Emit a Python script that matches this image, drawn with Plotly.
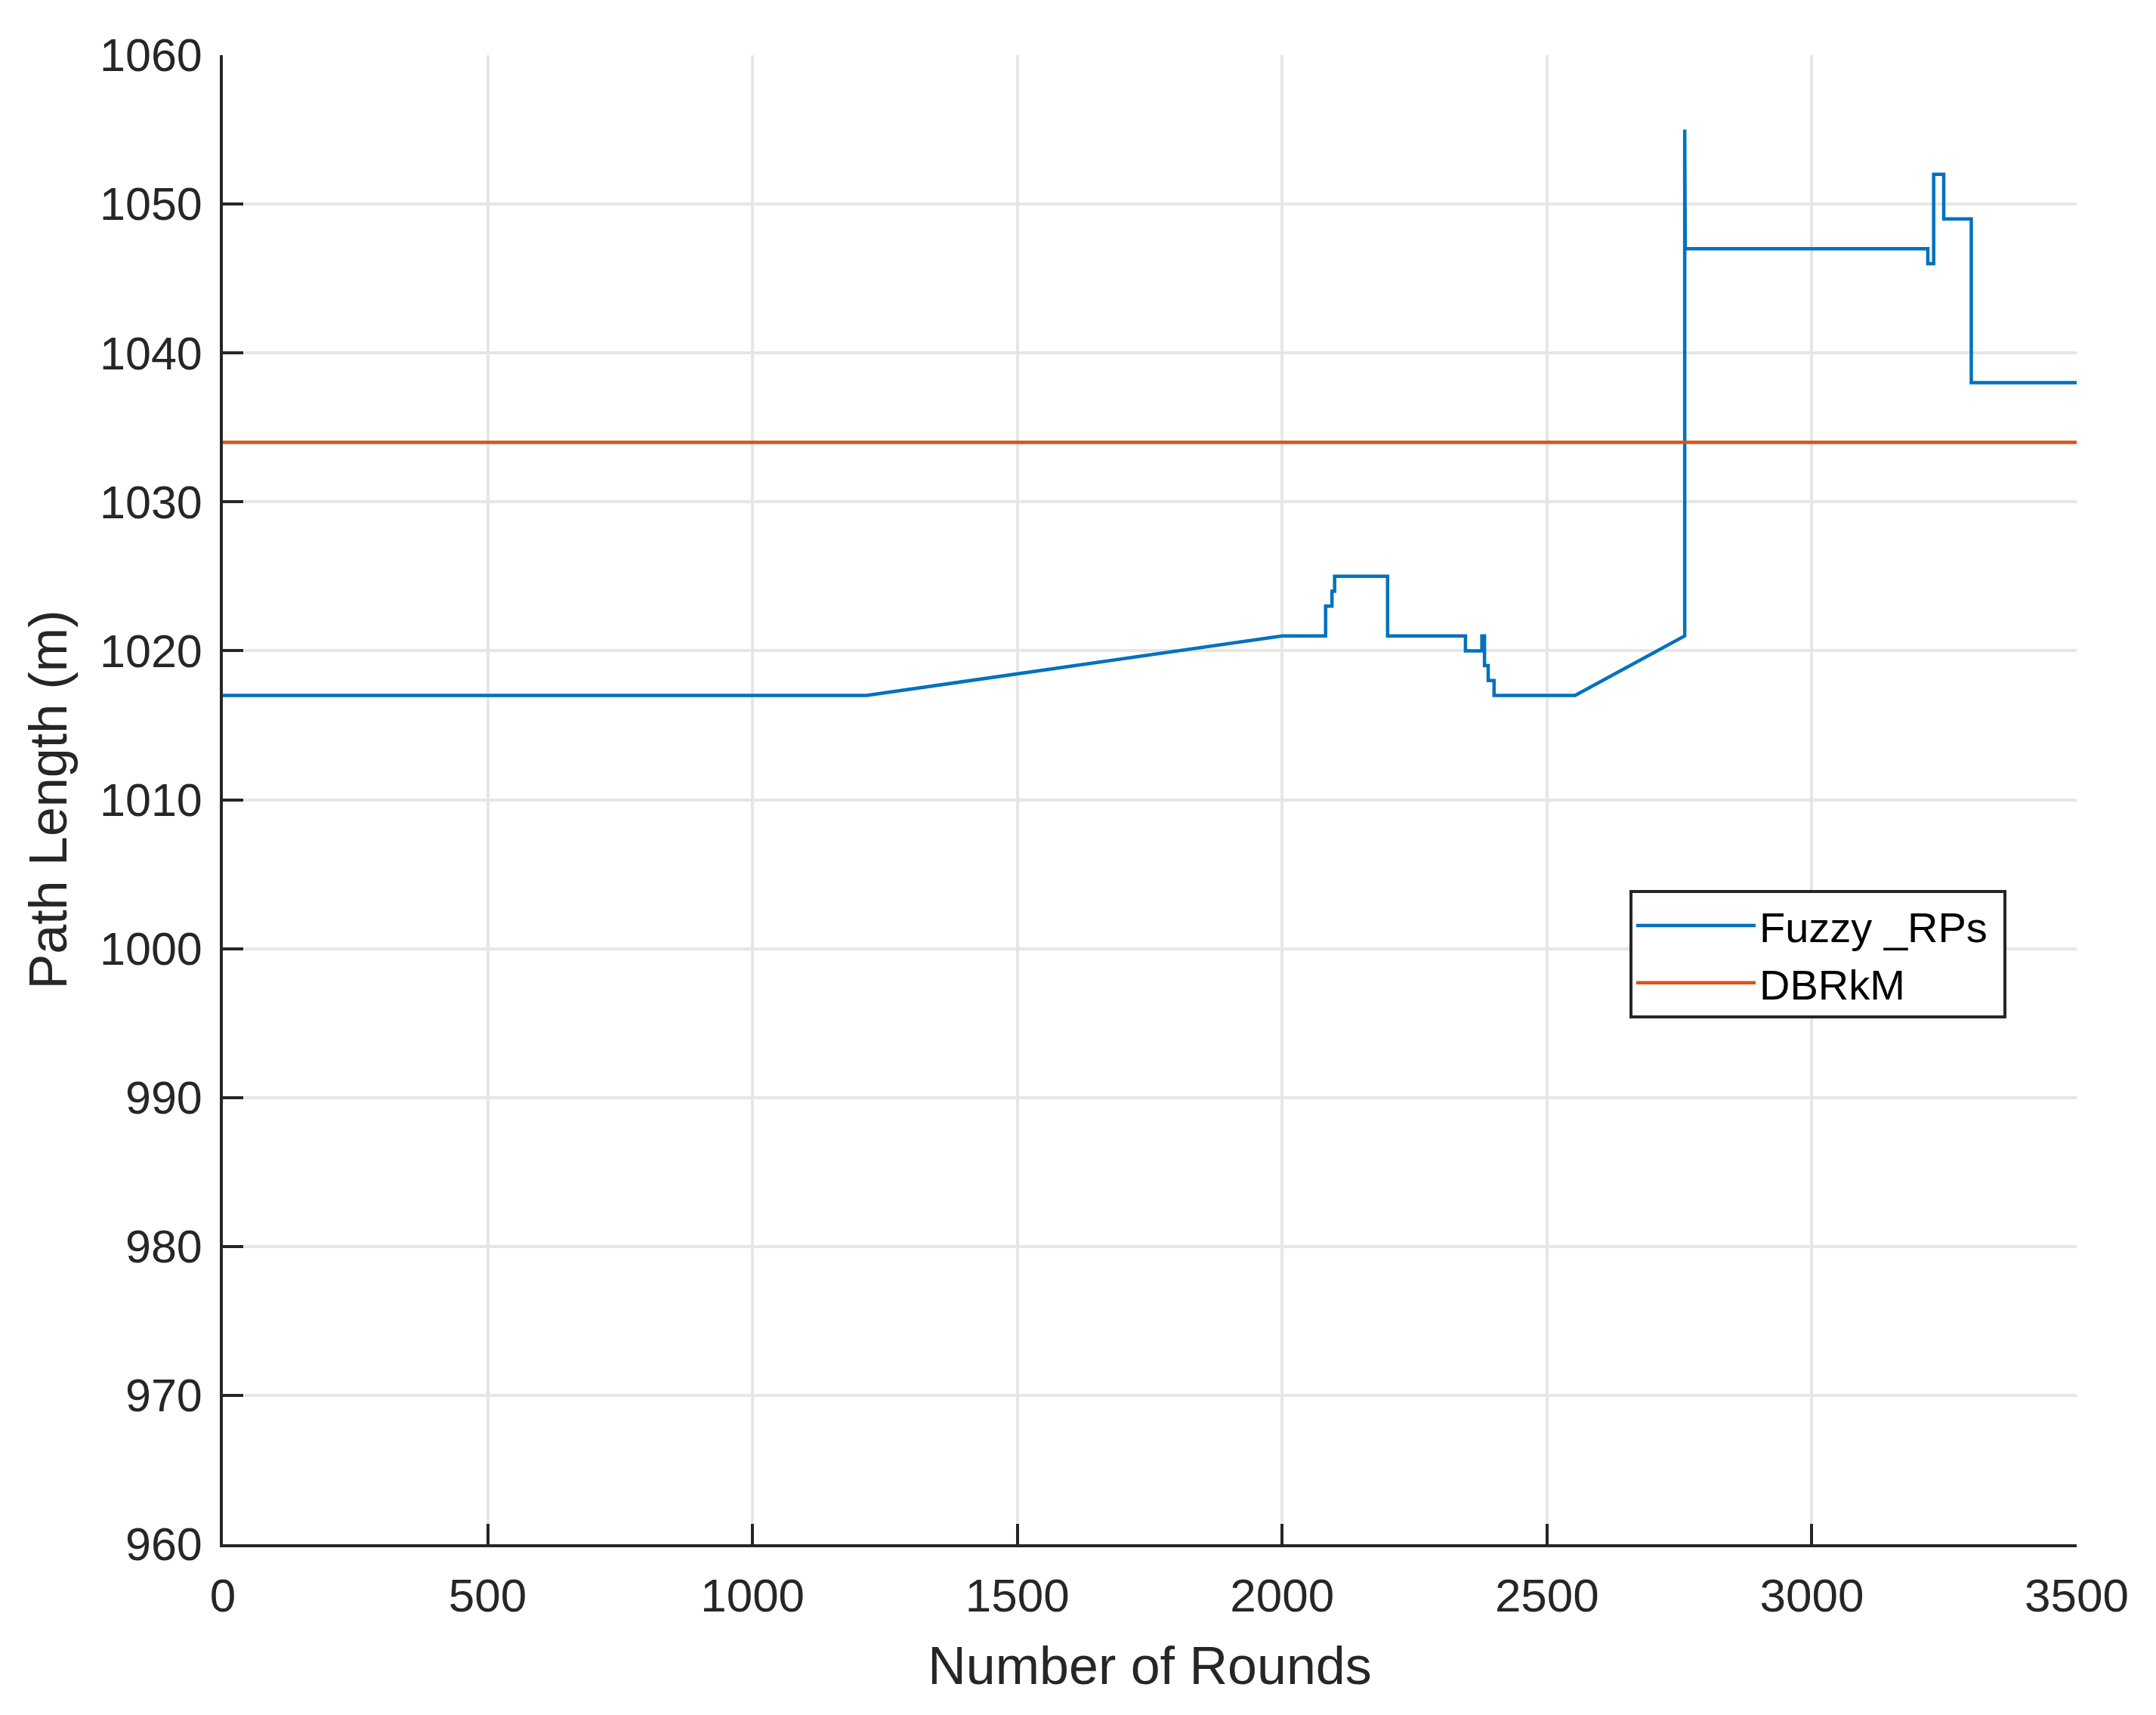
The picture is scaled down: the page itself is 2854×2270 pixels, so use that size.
import plotly.graph_objects as go

# Data
fuzzy_rounds = [0, 1215, 2000, 2082, 2082, 2094, 2094, 2099, 2099, 2199, 2199,
                2346, 2346, 2377, 2377, 2382, 2382, 2389, 2389, 2400, 2400,
                2553, 2760, 2760, 2761, 3219, 3219, 3230, 3230, 3249, 3249,
                3301, 3301, 3500]
fuzzy_length = [1017, 1017, 1021, 1021, 1023, 1023, 1024, 1024, 1025, 1025, 1021,
                1021, 1020, 1020, 1021, 1021, 1019, 1019, 1018, 1018, 1017,
                1017, 1021, 1055, 1047, 1047, 1046, 1046, 1052, 1052, 1049,
                1049, 1038, 1038]

dbrkm_rounds = [0, 3500]
dbrkm_length = [1034, 1034]

x_ticks = [0, 500, 1000, 1500, 2000, 2500, 3000, 3500]
y_ticks = [960, 970, 980, 990, 1000, 1010, 1020, 1030, 1040, 1050, 1060]

FONT = "Liberation Sans, Arial, sans-serif"
DARK = "#262626"

fig = go.Figure()
fig.add_trace(go.Scatter(x=fuzzy_rounds, y=fuzzy_length, mode="lines",
                         name="Fuzzy _RPs\u00a0",
                         line=dict(color="#0072BD", width=4.5)))
fig.add_trace(go.Scatter(x=dbrkm_rounds, y=dbrkm_length, mode="lines",
                         name="DBRkM",
                         line=dict(color="#D95319", width=4.5)))

# page body has an 8px margin, so the figure is shrunk by 8px and shifted
fig.update_layout(
    width=2846, height=2262,
    margin=dict(l=287, r=105, t=65, b=226),
    paper_bgcolor="white", plot_bgcolor="white",
    font=dict(family=FONT, size=61, color=DARK),
    showlegend=True,
    legend=dict(
        x=(2157 - 295) / (2749 - 295), y=1 - (1178 - 73) / (2044 - 73),
        xanchor="left", yanchor="top",
        bgcolor="white", bordercolor=DARK, borderwidth=4,
        font=dict(family=FONT, size=56, color="black"),
        itemwidth=158, tracegroupgap=0,
    ),
)

fig.update_xaxes(
    range=[0, 3500], tickvals=x_ticks, ticktext=[str(v) for v in x_ticks],
    showgrid=True, gridcolor="#e6e6e6", gridwidth=4,
    showline=True, linecolor=DARK, linewidth=4, mirror=False,
    ticks="inside", ticklen=27, tickwidth=4, tickcolor=DARK,
    tickfont=dict(family=FONT, size=62, color=DARK),
    ticklabelstandoff=11,
    zeroline=False,
    title=dict(text="Number of Rounds", font=dict(family=FONT, size=70, color=DARK),
               standoff=36),
)
fig.update_yaxes(
    range=[960, 1060], tickvals=y_ticks, ticktext=[str(v) for v in y_ticks],
    showgrid=True, gridcolor="#e6e6e6", gridwidth=4,
    showline=True, linecolor=DARK, linewidth=4, mirror=False,
    ticks="inside", ticklen=27, tickwidth=4, tickcolor=DARK,
    tickfont=dict(family=FONT, size=61, color=DARK),
    ticklabelstandoff=11,
    zeroline=False,
    title=dict(text="Path Length (m)", font=dict(family=FONT, size=70, color=DARK),
               standoff=22),
)

fig.write_html("out.html")
